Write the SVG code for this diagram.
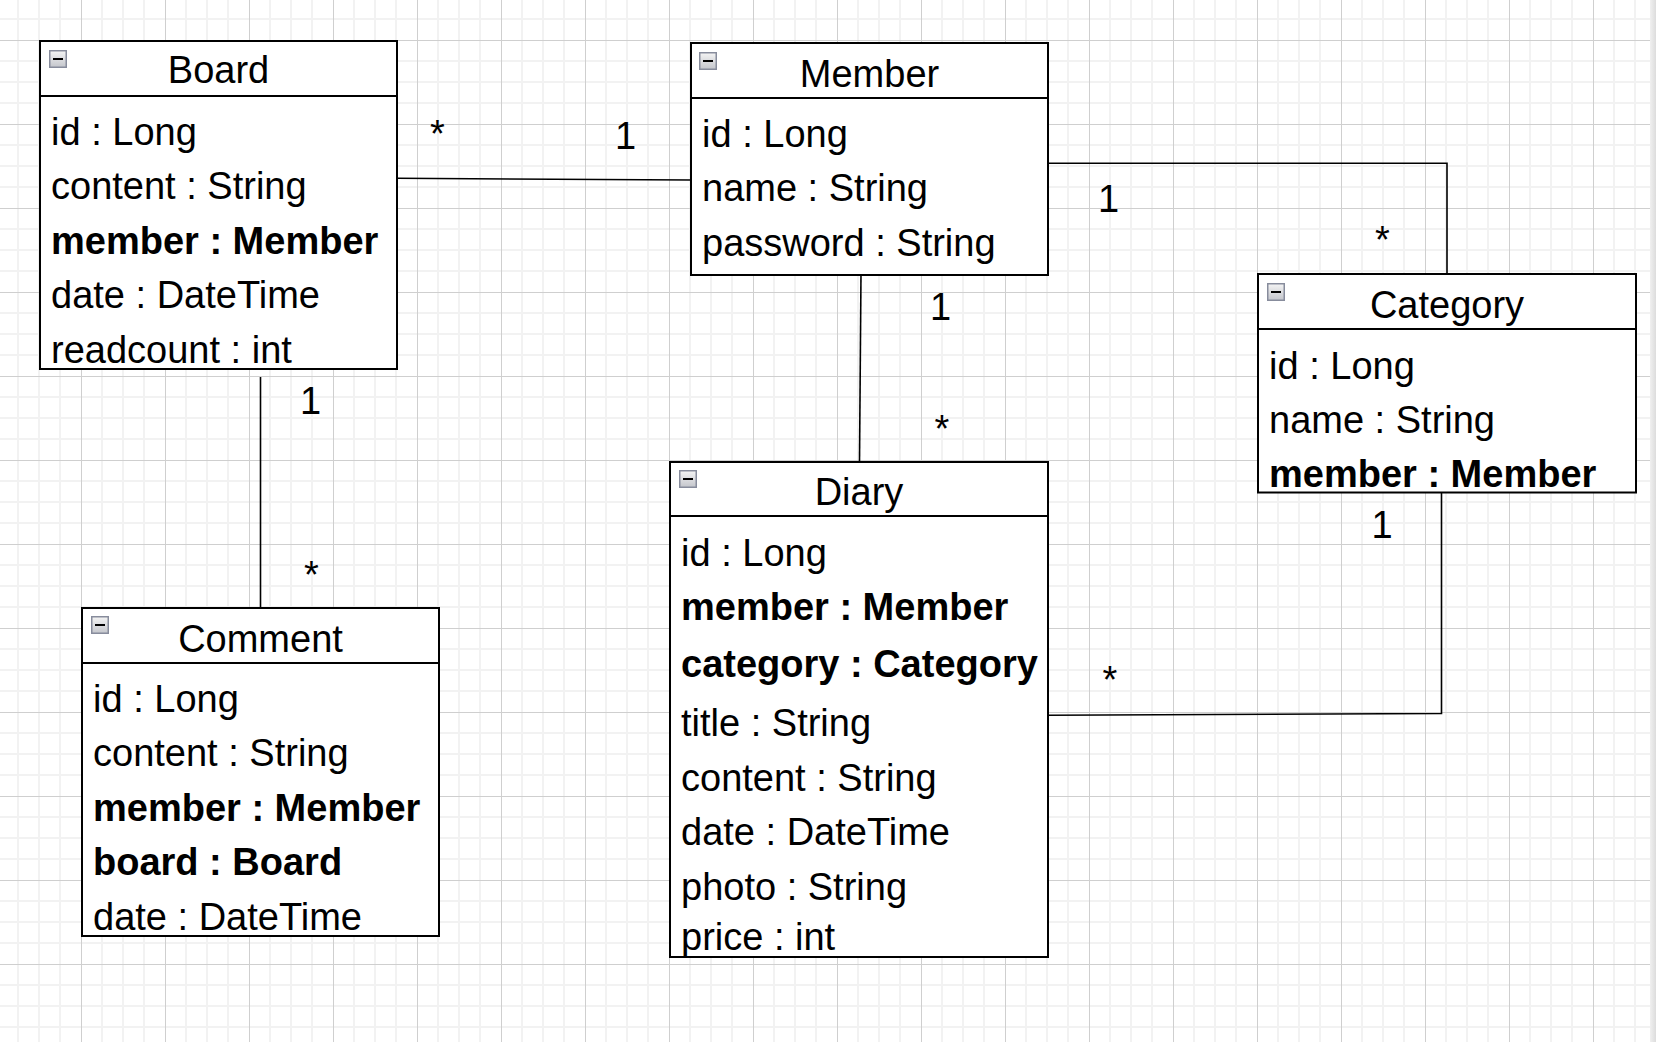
<svg xmlns="http://www.w3.org/2000/svg" xmlns:xlink="http://www.w3.org/1999/xlink" width="1656" height="1042" viewBox="0 0 1656 1042">
<style>
  .box { fill: #ffffff; stroke: #000000; stroke-width: 2; }
  .div { stroke: #000000; stroke-width: 2; fill: none; }
  .t { font-family: "Liberation Sans", Arial, Helvetica, sans-serif; font-size: 38px; fill: #000000; }
  .title { text-anchor: middle; }
  .b { font-weight: bold; }
  .conn { stroke: #000000; stroke-width: 1.6; fill: none; }
  .lbl { font-family: "Liberation Sans", Arial, Helvetica, sans-serif; font-size: 38px; fill: #000000; text-anchor: middle; }
</style>
<defs>
  <pattern id="grid" patternUnits="userSpaceOnUse" x="-3" y="-44" width="84" height="84">
    <rect x="0" y="0" width="84" height="84" fill="#ffffff"/>
    <rect x="20" y="0" width="2" height="84" fill="#f2f2f2"/>
    <rect x="41" y="0" width="2" height="84" fill="#f2f2f2"/>
    <rect x="62" y="0" width="2" height="84" fill="#f2f2f2"/>
    <rect x="0" y="20" width="84" height="2" fill="#f2f2f2"/>
    <rect x="0" y="41" width="84" height="2" fill="#f2f2f2"/>
    <rect x="0" y="62" width="84" height="2" fill="#f2f2f2"/>
    <rect x="0" y="0" width="1" height="84" fill="#cfcfcf"/>
    <rect x="0" y="0" width="84" height="1" fill="#cfcfcf"/>
  </pattern>
  <linearGradient id="iconGrad" x1="0" y1="0" x2="0" y2="1">
    <stop offset="0" stop-color="#f4f4f4"/>
    <stop offset="1" stop-color="#c4c6cc"/>
  </linearGradient>
  <linearGradient id="edge" x1="0" y1="0" x2="1" y2="0">
    <stop offset="0" stop-color="#f0f0f0"/>
    <stop offset="1" stop-color="#dcdcdc"/>
  </linearGradient>
  <symbol id="minus" viewBox="0 0 18 18" width="18" height="18">
    <rect x="0.75" y="0.75" width="16.5" height="16.5" fill="url(#iconGrad)" stroke="#878c9c" stroke-width="1.5"/>
    <line x1="4" y1="9" x2="14" y2="9" stroke="#000000" stroke-width="2"/>
  </symbol>
</defs>

<rect x="0" y="0" width="1656" height="1042" fill="url(#grid)"/>
<rect x="1650" y="0" width="6" height="1042" fill="url(#edge)"/>

<g id="connectors">
  <line class="conn" x1="397" y1="178.3" x2="691" y2="180"/>
  <line class="conn" x1="861" y1="273" x2="859.5" y2="462"/>
  <polyline class="conn" points="1048,163.3 1447,163.3 1447,274"/>
  <polyline class="conn" points="1441.5,492.5 1441.5,713.5 1048,715.3"/>
  <line class="conn" x1="260.5" y1="377" x2="260.5" y2="608"/>
  <text class="lbl" x="437.5" y="146.5">*</text>
  <text class="lbl" x="625.5" y="149">1</text>
  <text class="lbl" x="940.5" y="320">1</text>
  <text class="lbl" x="942" y="442">*</text>
  <text class="lbl" x="1108.5" y="212">1</text>
  <text class="lbl" x="1382.5" y="253">*</text>
  <text class="lbl" x="1382" y="537.5">1</text>
  <text class="lbl" x="1110" y="693">*</text>
  <text class="lbl" x="310.5" y="413.5">1</text>
  <text class="lbl" x="311.5" y="588">*</text>
</g>

<g id="board">
  <rect class="box" x="40" y="41" width="357" height="328"/>
  <line class="div" x1="40" y1="96" x2="397" y2="96"/>
  <use xlink:href="#minus" x="49" y="50"/>
  <text class="t title" x="218.5" y="83">Board</text>
  <text class="t" x="51" y="145">id : Long</text>
  <text class="t" x="51" y="199">content : String</text>
  <text class="t b" x="51" y="254">member : Member</text>
  <text class="t" x="51" y="308">date : DateTime</text>
  <text class="t" x="51" y="363">readcount : int</text>
</g>

<g id="member">
  <rect class="box" x="691" y="43" width="357" height="232"/>
  <line class="div" x1="691" y1="98" x2="1048" y2="98"/>
  <use xlink:href="#minus" x="699" y="52"/>
  <text class="t title" x="869.5" y="87">Member</text>
  <text class="t" x="702" y="147">id : Long</text>
  <text class="t" x="702" y="201">name : String</text>
  <text class="t" x="702" y="256">password : String</text>
</g>

<g id="category">
  <rect class="box" x="1258" y="274" width="378" height="218.5"/>
  <line class="div" x1="1258" y1="329" x2="1636" y2="329"/>
  <use xlink:href="#minus" x="1267" y="283"/>
  <text class="t title" x="1447" y="318">Category</text>
  <text class="t" x="1269" y="379">id : Long</text>
  <text class="t" x="1269" y="433">name : String</text>
  <text class="t b" x="1269" y="487">member : Member</text>
</g>

<g id="diary">
  <rect class="box" x="670" y="462" width="378" height="495"/>
  <line class="div" x1="670" y1="516" x2="1048" y2="516"/>
  <use xlink:href="#minus" x="679" y="470"/>
  <text class="t title" x="859" y="505">Diary</text>
  <text class="t" x="681" y="566">id : Long</text>
  <text class="t b" x="681" y="620">member : Member</text>
  <text class="t b" x="681" y="677">category : Category</text>
  <text class="t" x="681" y="736">title : String</text>
  <text class="t" x="681" y="791">content : String</text>
  <text class="t" x="681" y="845">date : DateTime</text>
  <text class="t" x="681" y="900">photo : String</text>
  <text class="t" x="681" y="950">price : int</text>
</g>

<g id="comment">
  <rect class="box" x="82" y="608" width="357" height="328"/>
  <line class="div" x1="82" y1="663" x2="439" y2="663"/>
  <use xlink:href="#minus" x="91" y="616"/>
  <text class="t title" x="260.5" y="652">Comment</text>
  <text class="t" x="93" y="712">id : Long</text>
  <text class="t" x="93" y="766">content : String</text>
  <text class="t b" x="93" y="821">member : Member</text>
  <text class="t b" x="93" y="875">board : Board</text>
  <text class="t" x="93" y="930">date : DateTime</text>
</g>
</svg>
